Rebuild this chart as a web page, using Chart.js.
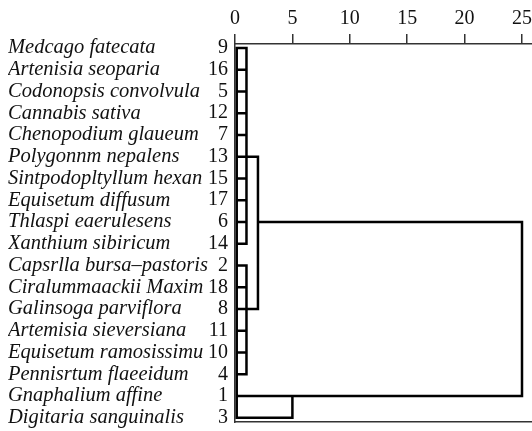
<!DOCTYPE html>
<html>
<head>
<meta charset="utf-8">
<script src="https://cdn.jsdelivr.net/npm/chart.js@4/dist/chart.umd.min.js"></script>
<style>
  html, body { margin: 0; padding: 0; background: #fff; }
  #wrap { width: 532px; height: 431px; }
</style>
</head>
<body>
<div id="wrap"><canvas id="chart"></canvas></div>
<script>
// case labels, top to bottom
const species = [
  "Medcago fatecata", "Artenisia seoparia", "Codonopsis convolvula", "Cannabis sativa",
  "Chenopodium glaueum", "Polygonnm nepalens", "Sintpodopltyllum hexan", "Equisetum diffusum",
  "Thlaspi eaerulesens", "Xanthium sibiricum", "Capsrlla bursa\u2013pastoris", "Ciralummaackii Maxim",
  "Galinsoga parviflora", "Artemisia sieversiana", "Equisetum ramosissimu", "Pennisrtum flaeeidum",
  "Gnaphalium affine", "Digitaria sanguinalis"
];
const caseNo = [9, 16, 5, 12, 7, 13, 15, 17, 6, 14, 2, 18, 8, 11, 10, 4, 1, 3];
const xTicks = [0, 5, 10, 15, 20, 25];

// rescaled distance where each case's stem ends
const leafDist = [1, 1, 1, 1, 1, 1, 1, 1, 1, 1, 1, 1, 1, 1, 1, 1, 25, 5];
// vertical joins: [distance, fromRow, toRow]
const joins = [[1, 0, 9], [1, 10, 15], [2, 5, 12], [5, 16, 17], [25, 8, 16]];
// horizontal links between clusters: [row, fromDist, toDist]
const links = [[5, 1, 2], [12, 1, 2], [8, 2, 25]];
const stemStart = 0.15;

let pts = [];
function seg(x1, y1, x2, y2) {
  pts.push({x: x1, y: y1}, {x: x2, y: y2}, {x: NaN, y: NaN});
}
seg(stemStart, 0, stemStart, caseNo.length - 1);
leafDist.forEach((d, i) => seg(stemStart, i, d, i));
joins.forEach(j => seg(j[0], j[1], j[0], j[2]));
links.forEach(l => seg(l[1], l[0], l[2], l[0]));

const serif = "'Liberation Serif', 'DejaVu Serif', serif";
const axisColor = "#333";
const rowTicks = s => { s.ticks = caseNo.map((_, i) => ({value: i})); };

new Chart(document.getElementById("chart"), {
  type: "scatter",
  data: {
    datasets: [{
      data: pts,
      showLine: true,
      spanGaps: false,
      borderColor: "#000",
      borderWidth: 2.5,
      borderCapStyle: "square",
      pointRadius: 0,
      pointHoverRadius: 0
    }]
  },
  options: {
    responsive: true,
    maintainAspectRatio: false,
    animation: false,
    events: [],
    layout: { padding: { left: 8, top: 8, right: 0, bottom: 0 } },
    plugins: { legend: { display: false }, tooltip: { enabled: false } },
    scales: {
      x: {
        type: "linear", position: "top", min: 0, max: 25.87,
        afterBuildTicks: s => { s.ticks = xTicks.map(v => ({value: v})); },
        afterFit: s => { s.height = 36; },
        grid: { drawOnChartArea: false, drawTicks: true, tickLength: 10, color: axisColor, lineWidth: 1.5 },
        border: { display: true, color: axisColor, width: 1.5 },
        ticks: { font: { family: serif, size: 20, lineHeight: 1.5 }, color: "#111", padding: 0, maxRotation: 0 }
      },
      x2: {
        type: "linear", position: "bottom", min: 0, max: 25.87,
        afterFit: s => { s.height = 9; },
        grid: { display: false, drawTicks: false },
        border: { display: true, color: axisColor, width: 1.5 },
        ticks: { display: false }
      },
      y: {
        type: "linear", position: "left", reverse: true, min: -0.18, max: 17.19, weight: 0,
        afterBuildTicks: rowTicks,
        afterFit: s => { s.width = 27; },
        grid: { display: false, drawTicks: false },
        border: { display: true, color: axisColor, width: 1.5 },
        ticks: { autoSkip: false, padding: 7, color: "#111",
          font: { family: serif, size: 20, lineHeight: 0.1 },
          callback: v => caseNo[v] }
      },
      yName: {
        type: "linear", position: "left", reverse: true, min: -0.18, max: 17.19, weight: 1,
        afterBuildTicks: rowTicks,
        afterFit: s => { s.width = 200; },
        grid: { display: false, drawTicks: false },
        border: { display: false },
        ticks: { autoSkip: false, crossAlign: "far", padding: 0, color: "#111",
          font: { family: serif, size: 20.5, style: "italic", lineHeight: 0.1 },
          callback: v => species[v] }
      }
    }
  }
});
</script>
</body>
</html>
